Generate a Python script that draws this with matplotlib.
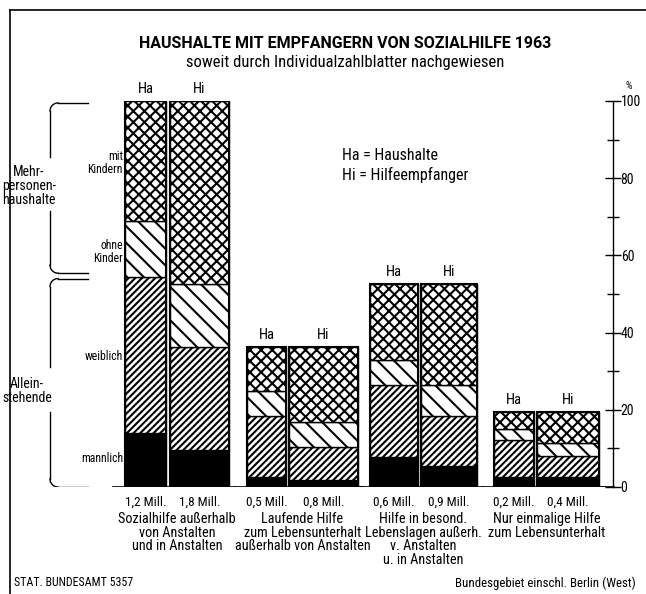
import numpy as np
import matplotlib
matplotlib.use('Agg')
import matplotlib.pyplot as plt
from matplotlib.lines import Line2D
from matplotlib import font_manager

# narrow font like the print
names = set(f.name for f in font_manager.fontManager.ttflist)
fam = 'Roboto Condensed' if 'Roboto Condensed' in names else 'DejaVu Sans'
plt.rcParams['font.family'] = [fam, 'DejaVu Sans']
plt.rcParams['hatch.linewidth'] = 1.5

#%% data (percent of all)
groups = ['Sozialhilfe außerhalb\nvon Anstalten\nund in Anstalten',
          'Laufende Hilfe\nzum Lebensunterhalt\naußerhalb von Anstalten',
          'Hilfe in besond.\nLebenslagen außerh.\nv. Anstalten\nu. in Anstalten',
          'Nur einmalige Hilfe\nzum Lebensunterhalt']
mill_ha = ['1,2 Mill.', '0,5 Mill.', '0,6 Mill.', '0,2 Mill.']
mill_hi = ['1,8 Mill.', '0,8 Mill.', '0,9 Mill.', '0,4 Mill.']

# Ha = Haushalte
ha_maennlich = [14.0, 2.6, 7.8, 2.6]
ha_weiblich = [40.5, 15.8, 18.6, 9.6]
ha_ohne = [14.3, 6.5, 6.5, 2.8]
ha_mit = [31.2, 11.4, 19.6, 4.4]
# Hi = Hilfeempfaenger
hi_maennlich = [9.6, 1.8, 5.4, 2.6]
hi_weiblich = [26.7, 8.6, 13.0, 5.4]
hi_ohne = [16.3, 6.4, 8.0, 3.4]
hi_mit = [47.4, 19.5, 26.1, 8.0]

# bar layout in pixels (left edge, width)
ha_left = [125, 247, 370, 494]
ha_width = [41, 39, 48, 40]
hi_left = [170, 289, 421, 537]
hi_width = [59, 69, 56, 62]

W, H = 646, 594
fig = plt.figure(figsize=(W / 100, H / 100), dpi=100)
y0, y100 = 487, 101
ax = fig.add_axes([0, (H - y0) / H, 1, (y0 - y100) / H])
ax.set_xlim(0, W)
ax.set_ylim(0, 100)
ax.patch.set_alpha(0)

styles = [dict(color='black', hatch=None),
          dict(color='white', hatch='/////'),
          dict(color='white', hatch='\\\\'),
          dict(color='white', hatch='xxx')]

def stack(left, width, parts):
    bottom = np.zeros(len(left))
    for vals, st in zip(parts, styles):
        ax.bar(left, vals, width, bottom=bottom, align='edge', color=st['color'],
               hatch=st['hatch'], edgecolor='black', linewidth=1.0)
        bottom = bottom + np.array(vals)
    # outline of the whole bar
    ax.bar(left, bottom, width, align='edge', fill=False, edgecolor='black', linewidth=1.5)
    return bottom

top_ha = stack(ha_left, ha_width, [ha_maennlich, ha_weiblich, ha_ohne, ha_mit])
top_hi = stack(hi_left, hi_width, [hi_maennlich, hi_weiblich, hi_ohne, hi_mit])

fs = 10.3
for i in range(4):
    cha = ha_left[i] + ha_width[i] / 2
    chi = hi_left[i] + hi_width[i] / 2
    ax.text(cha, top_ha[i] + 1.3, 'Ha', ha='center', va='bottom', fontsize=10.5)
    ax.text(chi, top_hi[i] + 1.3, 'Hi', ha='center', va='bottom', fontsize=10.5)
    ax.text(cha, -2.2, mill_ha[i], ha='center', va='top', fontsize=9.5, clip_on=False)
    ax.text(chi, -2.2, mill_hi[i], ha='center', va='top', fontsize=9.5, clip_on=False)
    gc = (ha_left[i] + hi_left[i] + hi_width[i]) / 2
    ax.text(gc, -6.6, groups[i], ha='center', va='top', fontsize=fs,
            linespacing=0.95, clip_on=False)
    # base line under the group
    ax.plot([ha_left[i] - 12, hi_left[i] + hi_width[i] + 6], [0, 0], color='black', lw=1.2)
ax.plot([hi_left[3] + hi_width[3], 614], [0, 0], color='black', lw=1.2)

# right percent axis
for s in ['left', 'top', 'bottom']:
    ax.spines[s].set_visible(False)
ax.spines['right'].set_position(('data', 613))
ax.spines['right'].set_linewidth(1.0)
ax.set_xticks([])
ax.yaxis.tick_right()
ax.set_yticks([0, 20, 40, 60, 80, 100])
ax.set_yticks([10, 30, 50, 70, 90], minor=True)
ax.tick_params(axis='y', which='major', direction='inout', length=11, width=1.0,
               labelsize=10, pad=0)
ax.tick_params(axis='y', which='minor', direction='inout', length=8, width=1.0)
ax.text(629, 102.5, '%', ha='center', va='bottom', fontsize=7.5)

# category labels on the left
ax.text(123, 84, 'mit\nKindern', ha='right', va='center', fontsize=8.5, linespacing=1.0)
ax.text(123, 61, 'ohne\nKinder', ha='right', va='center', fontsize=8.5, linespacing=1.0)
ax.text(123, 33.7, 'weiblich', ha='right', va='center', fontsize=8.5)
ax.text(123, 7.5, 'mannlich', ha='right', va='center', fontsize=8.5)
ax.text(29, 78.0, 'Mehr-\npersonen-\nhaushalte', ha='center', va='center', fontsize=10,
        linespacing=1.0)
ax.text(27, 25, 'Allein-\nstehende', ha='center', va='center', fontsize=10, linespacing=1.0)

# brackets
def bracket(ytop, ybot, gap):
    r = 8.0
    ry = r / 3.86
    t = np.linspace(0, np.pi / 2, 10)
    ax.plot([88, 50 + r], [ytop, ytop], color='black', lw=1.0)
    ax.plot(50 + r - r * np.sin(t), ytop - ry + ry * np.cos(t), color='black', lw=1.0)
    ax.plot([50, 50], [ytop - ry, gap[1]], color='black', lw=1.0)
    ax.plot([50, 50], [gap[0], ybot + ry], color='black', lw=1.0)
    ax.plot(50 + r - r * np.cos(t), ybot + ry - ry * np.sin(t), color='black', lw=1.0)
    ax.plot([50 + r, 88], [ybot, ybot], color='black', lw=1.0)

bracket(99.5, 55.4, (71.5, 85.5))
bracket(54.0, 0.0, (19.5, 31.0))

ax.text(342, 86, 'Ha = Haushalte', ha='left', va='center', fontsize=11.5)
ax.text(342, 80.8, 'Hi = Hilfeempfanger', ha='left', va='center', fontsize=11.5)

# titles and footer
fig.text(345 / W, 1 - 43 / H, 'HAUSHALTE MIT EMPFANGERN VON SOZIALHILFE 1963',
         ha='center', va='center', fontsize=11.5, fontweight='bold',
         family=['Roboto', 'DejaVu Sans'])
fig.text(345 / W, 1 - 62 / H, 'soweit durch Individualzahlblatter nachgewiesen',
         ha='center', va='center', fontsize=12)
fig.text(14 / W, 1 - 583 / H, 'STAT. BUNDESAMT 5357', ha='left', va='center', fontsize=8.6)
fig.text(636 / W, 1 - 583 / H, 'Bundesgebiet einschl. Berlin (West)', ha='right',
         va='center', fontsize=9.3)

# frame top and left
fig.add_artist(Line2D([10 / W, 1], [1 - 10 / H, 1 - 10 / H], transform=fig.transFigure,
                      color='black', lw=1.2))
fig.add_artist(Line2D([10 / W, 10 / W], [0, 1 - 10 / H], transform=fig.transFigure,
                      color='black', lw=1.2))

fig.savefig('out.png', dpi=100)
